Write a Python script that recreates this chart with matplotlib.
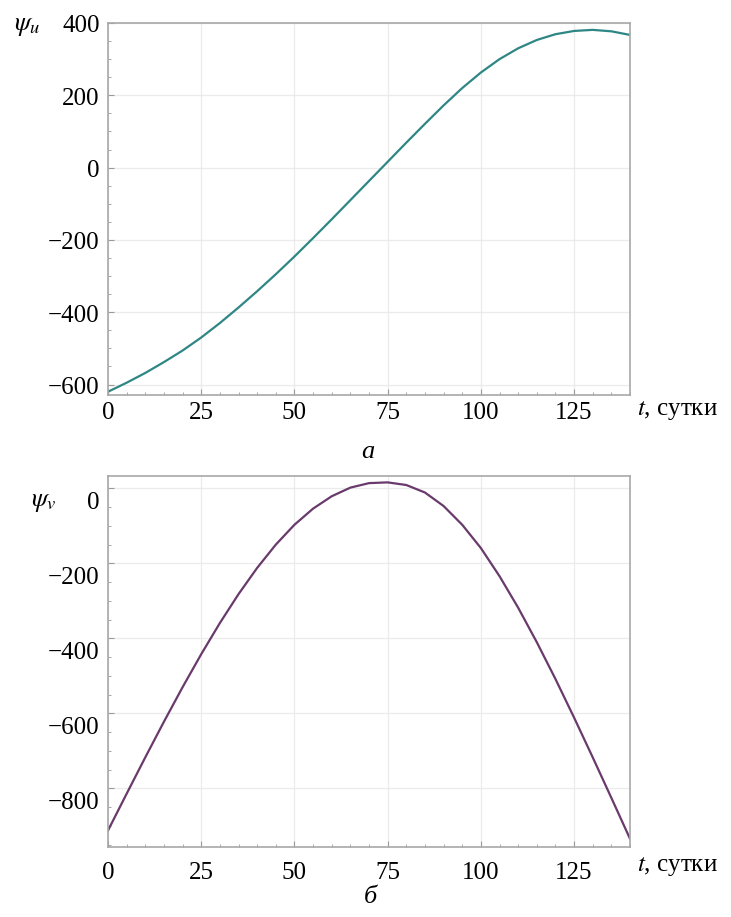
import matplotlib
matplotlib.use("Agg")
import matplotlib.pyplot as plt
import matplotlib.transforms as mtransforms
import numpy as np

plt.rcParams['font.family'] = ['Liberation Serif', 'DejaVu Serif']
plt.rcParams['mathtext.fontset'] = 'stix'

# days
t = [0, 5, 10, 15, 20, 25, 30, 35, 40, 45, 50, 55, 60, 65, 70,
     75, 80, 85, 90, 95, 100, 105, 110, 115, 120, 125, 130, 135, 140]
# psi_u (panel a)
psi_u = [-620, -595, -568, -538, -506, -470, -430, -387, -342, -295,
         -246, -195, -143, -90, -37, 16, 69, 121, 172, 220,
         263, 300, 330, 353, 369, 378, 381, 377, 367]
# psi_v (panel b)
psi_v = [-912, -814, -717, -622, -530, -442, -359, -282, -212, -150,
         -97, -54, -21, 2, 14, 16, 9, -11, -47, -97,
         -159, -234, -318, -410, -508, -611, -717, -825, -934]

xticks = [0, 25, 50, 75, 100, 125]
yticks_u = [-600, -400, -200, 0, 200, 400]
yticks_v = [-800, -600, -400, -200, 0]

W, H = 731, 917
fig = plt.figure(figsize=(W / 100, H / 100), dpi=100)


def px_axes(left, top, right, bottom):
    return fig.add_axes([left / W, 1 - bottom / H, (right - left) / W, (bottom - top) / H])


def style(ax, yticks, ylim, xpad, ylab_shift):
    ax.set_xlim(0, 140)
    ax.set_xticks(xticks)
    ax.set_xticks(np.arange(0, 141, 5), minor=True)
    ax.set_yticks(yticks)
    ax.set_yticks(np.arange(-1000, 401, 50), minor=True)
    ax.set_ylim(*ylim)
    ax.set_yticklabels(['\u2212%d' % -v if v < 0 else '%d' % v for v in yticks])
    ax.grid(True, which='major', color='#ebebeb', linewidth=0.9)
    for s in ax.spines.values():
        s.set_color('#a8a8a8')
        s.set_linewidth(1.2)
    ax.tick_params(which='both', direction='in', color='#9a9a9a', labelsize=18)
    ax.tick_params(which='major', length=4, width=0.8)
    ax.tick_params(which='minor', length=2.5, width=0.6)
    ax.tick_params(axis='x', pad=xpad)
    ax.tick_params(axis='y', pad=6)
    ax.tick_params(top=False, right=False, which='both')
    off = mtransforms.ScaledTranslation(0, -ylab_shift / 100, fig.dpi_scale_trans)
    for lab in ax.get_yticklabels():
        lab.set_transform(lab.get_transform() + off)


ax1 = px_axes(108, 23, 630, 395)
ax1.plot(t, psi_u, color='#2f8785', linewidth=1.6, solid_joinstyle='round')
style(ax1, yticks_u, (-629, 400), 5, 1)

ax2 = px_axes(108, 476, 630, 847)
ax2.plot(t, psi_v, color='#693a6c', linewidth=1.6, solid_joinstyle='round')
style(ax2, yticks_v, (-956, 33), 11, 12)

# axis labels and captions
fig.text(27 / W, 1 - 27 / H, r'$\psi_{u}$', fontsize=19, ha='center', va='center')
fig.text(44 / W, 1 - 503 / H, r'$\psi_{v}$', fontsize=19, ha='center', va='center')
for yb in (411, 867):
    fig.text(637 / W, 1 - yb / H, r'$t$, сутки', fontsize=18, ha='left', va='center')
fig.text(368 / W, 1 - 452 / H, 'а', fontsize=19, style='italic', ha='center', va='center')
fig.text(370 / W, 1 - 897 / H, 'б', fontsize=19, style='italic', ha='center', va='center')

fig.savefig('out.png', dpi=100)
